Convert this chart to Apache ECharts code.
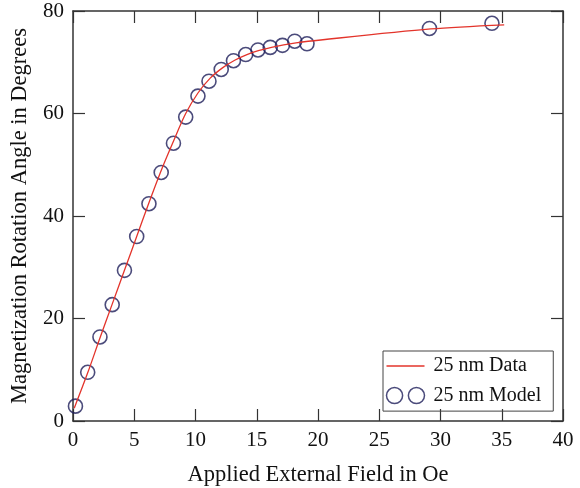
<!DOCTYPE html>
<html>
<head>
<meta charset="utf-8">
<script src="https://cdn.jsdelivr.net/npm/echarts@6/dist/echarts.min.js"></script>
<style>
  html, body { margin: 0; padding: 0; background: #fff; }
  #chart { width: 580px; height: 488px; }
</style>
</head>
<body>
<div id="chart"></div>
<script>
// measured curve (red line)
var dataX = [0.1, 1.2, 2.2, 3.2, 4.2, 5.2, 6.2, 7.2, 8.2, 9.2, 10.2, 11.2, 12.2, 13.2, 14.2, 15.2, 16.2, 17.2, 18.2, 19.2, 29.2, 35.2];
var dataY = [2.5, 9.4, 16.2, 22.8, 29.4, 36.0, 42.6, 48.9, 54.6, 60.0, 64.0, 66.9, 68.9, 70.4, 71.5, 72.3, 72.9, 73.4, 73.8, 74.1, 76.5, 77.3];
// model points (open circles)
var modelX = [0.2, 1.2, 2.2, 3.2, 4.2, 5.2, 6.2, 7.2, 8.2, 9.2, 10.2, 11.1, 12.1, 13.1, 14.1, 15.1, 16.1, 17.1, 18.1, 19.1, 29.1, 34.2];
var modelY = [2.9, 9.5, 16.4, 22.7, 29.4, 36.0, 42.4, 48.5, 54.2, 59.3, 63.4, 66.3, 68.6, 70.3, 71.5, 72.4, 72.9, 73.3, 74.1, 73.6, 76.6, 77.6];
var seriesNames = ["25 nm Data", "25 nm Model"];

var font = "Liberation Serif";
var axisColor = "#333";
var navy = "#1e1e5a";
var red = "#e3342b";

function pairs(xs, ys) {
  return xs.map(function(x, i) { return [x, ys[i]]; });
}

var chart = echarts.init(document.getElementById("chart"));

// shared look of the four frame axes
function frameAxis(extra) {
  var base = {
    type: "value",
    axisLine: { show: true, onZero: false, lineStyle: { color: axisColor, width: 1.5 } },
    axisTick: { show: true, inside: true, length: 12, lineStyle: { color: axisColor, width: 1.2 } },
    splitLine: { show: false },
    axisLabel: { show: false }
  };
  return Object.assign(base, extra);
}

var option = {
  animation: false,
  backgroundColor: "#fff",
  grid: { left: 73, right: 17, top: 11, bottom: 67, outerBoundsMode: "none" },
  xAxis: [
    frameAxis({
      min: 0, max: 40, interval: 5, position: "bottom",
      name: "Applied External Field in Oe", nameLocation: "middle", nameGap: 43,
      nameTextStyle: { fontFamily: font, fontSize: 22.5, color: "#111" },
      axisLabel: { show: true, fontFamily: font, fontSize: 21, color: "#111", margin: 9 }
    }),
    frameAxis({ min: 0, max: 40, interval: 5, position: "top" })
  ],
  yAxis: [
    frameAxis({
      min: 0, max: 80, interval: 20, position: "left",
      name: "Magnetization Rotation Angle in Degrees", nameLocation: "middle", nameGap: 41,
      nameTextStyle: { fontFamily: font, fontSize: 22.5, color: "#111" },
      axisLabel: { show: true, fontFamily: font, fontSize: 21, color: "#111", margin: 9, padding: [6, 0, 0, 0] }
    }),
    frameAxis({ min: 0, max: 80, interval: 20, position: "right" })
  ],
  legend: {
    orient: "vertical",
    left: 383, top: 351,
    padding: [5, 12, 5, 1],
    itemGap: 9,
    itemWidth: 38, itemHeight: 18,
    borderColor: "#444", borderWidth: 1,
    textStyle: { fontFamily: font, fontSize: 20, color: "#111", padding: [0, 0, 0, 4] },
    data: [
      {
        name: seriesNames[0],
        icon: "path://M0,0H38V1.3H0Z",
        itemStyle: { color: red, borderWidth: 0 }
      },
      {
        name: seriesNames[1],
        icon: "path://M0,7a7,7 0 1,0 14,0a7,7 0 1,0 -14,0M19,7a7,7 0 1,0 14,0a7,7 0 1,0 -14,0",
        itemStyle: { color: "none", borderColor: navy, borderWidth: 1.5 }
      }
    ]
  },
  series: [
    {
      name: seriesNames[1],
      type: "scatter",
      data: pairs(modelX, modelY),
      symbol: "circle",
      symbolSize: 14,
      itemStyle: { color: "rgba(0,0,0,0)", borderColor: navy, borderWidth: 1.6 },
      z: 2
    },
    {
      name: seriesNames[0],
      type: "line",
      data: pairs(dataX, dataY),
      showSymbol: false,
      symbol: "none",
      smooth: 0.3,
      lineStyle: { color: red, width: 1.3 },
      itemStyle: { color: red },
      z: 3
    }
  ]
};

chart.setOption(option);
</script>
</body>
</html>
